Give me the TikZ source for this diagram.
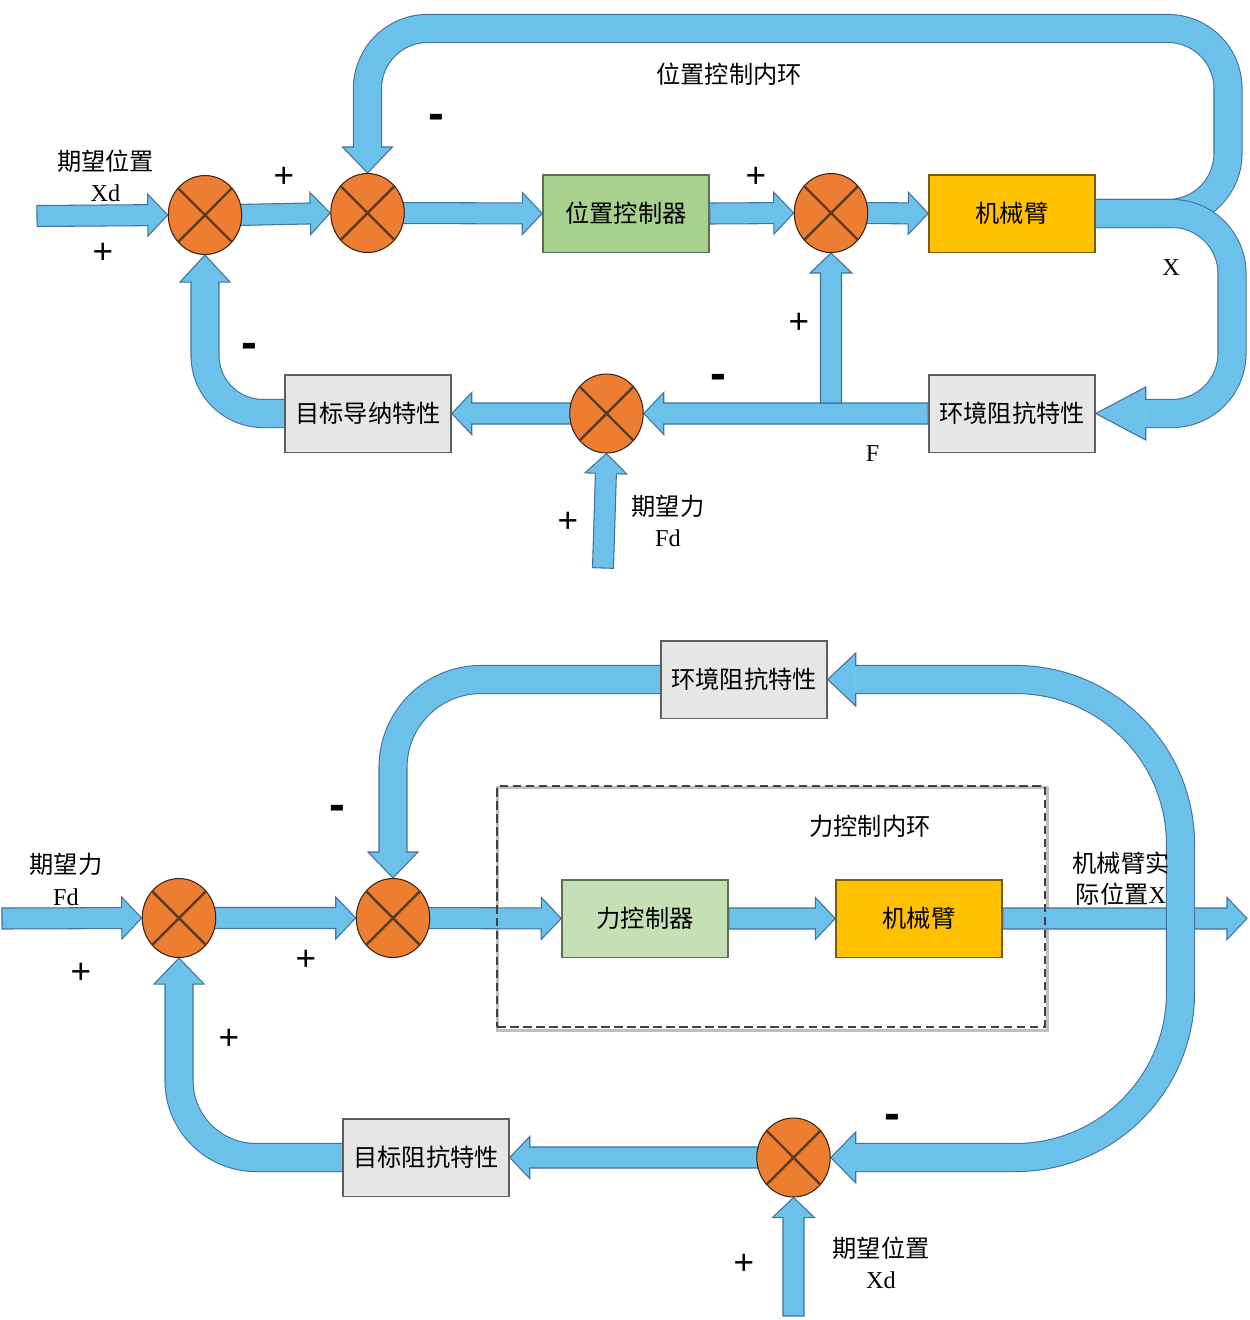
\documentclass[tikz,border=0pt]{standalone}
\usepackage{fontspec}
\setmainfont{Liberation Serif}
\newfontfamily\cjk{Noto Sans CJK SC}
\newfontfamily\sgn{Liberation Sans}
\usetikzlibrary{calc,shapes.geometric}
\pgfdeclarelayer{bg}
\pgfsetlayers{bg,main}
\definecolor{bandfill}{HTML}{6CC1EA}
\definecolor{bandedge}{HTML}{41719C}
\definecolor{sumfill}{HTML}{ED7D31}
\definecolor{sumedge}{HTML}{3B2313}
\definecolor{xcol}{HTML}{5A3A20}
\definecolor{boxgray}{HTML}{E7E6E6}
\definecolor{grayedge}{HTML}{5E5E5E}
\definecolor{greenA}{HTML}{A9D18E}
\definecolor{greenB}{HTML}{C5E0B4}
\definecolor{greenedge}{HTML}{5E6E52}
\definecolor{armfill}{HTML}{FFC000}
\definecolor{armedge}{HTML}{7A5C10}
\definecolor{dashcol}{HTML}{404040}
\tikzset{
 blk/.style={rectangle, draw=grayedge, line width=0.85pt, minimum width=33.2mm, minimum height=15.5mm, inner sep=0pt, font=\cjk\fontsize{13.8}{16}\selectfont},
 graybox/.style={blk, fill=boxgray},
 greenbox/.style={blk, fill=#1, draw=greenedge},
 armbox/.style={blk, fill=armfill, draw=armedge},
 summer/.style={ellipse, draw=sumedge, fill=sumfill, line width=0.6pt, minimum width=14.7mm, minimum height=15.8mm, inner sep=0pt},
 xline/.style={draw=xcol, line width=1.4pt},
 fatpoly/.style={fill=bandfill, draw=bandedge, line width=0.6pt, line join=miter},
 fatband/.style={draw=bandfill, line width=5.4mm, preaction={draw=bandedge, line width=5.82mm}},
 headedge/.style={draw=bandedge, line width=0.6pt},
 cjklab/.style={font=\cjk\fontsize{13.8}{16}\selectfont, inner sep=0pt},
 twoline/.style={align=center, inner sep=0pt, font=\fontsize{13.8}{17.8}\selectfont},
 latlab/.style={font=\fontsize{13.8}{16}\selectfont, inner sep=0pt},
 sgnplus/.style={anchor=base, inner sep=0pt, font=\sgn\fontsize{20}{20}\selectfont},
 sgnminus/.style={anchor=base, inner sep=0pt, font=\sgn\bfseries\fontsize{27}{27}\selectfont},
}
\newcommand\fathead[4]{%
 \fill[bandfill] ($(#1)!#3!90:(#2)$) -- ($(#1)!#4!90:(#2)$) -- (#2) -- ($(#1)!#4!-90:(#2)$) -- ($(#1)!#3!-90:(#2)$) -- cycle;
 \draw[headedge] ($(#1)!#3!90:(#2)$) -- ($(#1)!#4!90:(#2)$) -- (#2) -- ($(#1)!#4!-90:(#2)$) -- ($(#1)!#3!-90:(#2)$);}
\newcommand\fatarrow[5]{%
 \path (#1) coordinate (faA) (#2) coordinate (faT);
 \path ($(faT)!#4!(faA)$) coordinate (faB);
 \filldraw[fatpoly] ($(faA)!#3!90:(faT)$) -- ($(faB)!#3!90:(faT)$) -- ($(faB)!#5!90:(faT)$) -- (faT) -- ($(faB)!#5!-90:(faT)$) -- ($(faB)!#3!-90:(faT)$) -- ($(faA)!#3!-90:(faT)$) -- cycle;}
\newcommand\thinarrow[2]{\fatarrow{#1}{#2}{2.1mm}{4mm}{4.2mm}}
\begin{document}
\begin{tikzpicture}[x=0.02cm, y=-0.02cm]
\useasboundingbox (0,0) rectangle (1249,1320);
\begin{pgfonlayer}{bg}
\fill[white] (0,0) rectangle (1249,1320);
\end{pgfonlayer}
% ---------- top diagram nodes
\node[summer] (s1) at (205,215) {};
\node[summer] (s2) at (367.5,213) {};
\node[greenbox=greenA] (pc) at (626,213.5) {位置控制器};
\node[summer] (s3) at (831,213) {};
\node[armbox] (arm1) at (1012,213.5) {机械臂};
\node[graybox] (adm1) at (368,413.5) {目标导纳特性};
\node[summer] (s4) at (606.5,413.5) {};
\node[graybox] (env1) at (1012,413.5) {环境阻抗特性};
% ---------- bottom diagram nodes
\node[draw=dashcol, line width=0.9pt, dash pattern=on 1.7mm off 0.9mm, minimum width=109.6mm, minimum height=48.2mm, inner sep=0pt] (fbox) at (771,906.5) {};
\node[summer] (s5) at (179,918) {};
\node[summer] (s6) at (393,918) {};
\node[greenbox=greenB] (fc) at (645,918.5) {力控制器};
\node[armbox] (arm2) at (919,918.5) {机械臂};
\node[graybox] (env2) at (744,679.5) {环境阻抗特性};
\node[graybox] (imp2) at (426,1157.5) {目标阻抗特性};
\node[summer] (s7) at (793.5,1157.5) {};
\foreach \s in {s1,s2,s3,s4,s5,s6,s7}
  \draw[xline] (\s.45) -- (\s.225) (\s.135) -- (\s.-45);
% ---------- coordinates
\coordinate (in1) at (37,216);
\coordinate (j1) at (831,403);
\coordinate (fd1) at (603,568);
\coordinate (cA) at (1228,28.5);
\coordinate (hA) at ($(s2.north)+(0,-26)$);
\coordinate (cB) at (1232,413.5);
\coordinate (hB) at ($(env1.east)+(50,0)$);
\coordinate (hC) at ($(s1.south)+(0,27)$);
\coordinate (in2) at (2,918.5);
\coordinate (out2) at (1247,918.5);
\coordinate (xd2) at (793.5,1316);
\coordinate (hD) at ($(s6.north)+(0,-26)$);
\coordinate (hE1) at ($(env2.east)+(28,0)$);
\coordinate (hE2) at ($(s7.east)+(25,0)$);
\coordinate (cE) at (1180.5,1157.5);
\coordinate (hF) at ($(s5.south)+(0,26)$);
% ---------- connectors
\begin{pgfonlayer}{bg}
\draw[black!25, line width=0.6mm] ($(fbox.north west)+(1.5,2.5)$) rectangle ($(fbox.south east)+(1.5,2.5)$);
\thinarrow{in1}{s1.west}
\thinarrow{[xshift=-1mm]s1.east}{s2.west}
\thinarrow{[xshift=-1mm]s2.east}{pc.west}
\thinarrow{pc.east}{s3.west}
\thinarrow{[xshift=-1mm]s3.east}{arm1.west}
\draw[fatband, rounded corners=12mm] (arm1.east) -| (cA) -| (hA);
\fathead{hA}{s2.north}{2.7mm}{5mm}
\draw[fatband, rounded corners=12mm] (arm1.east) -| (cB) -- (hB);
\fathead{hB}{env1.east}{2.7mm}{5.3mm}
\thinarrow{env1.west}{s4.east}
\thinarrow{j1}{s3.south}
\thinarrow{[xshift=1mm]s4.west}{adm1.east}
\thinarrow{fd1}{s4.south}
\draw[fatband, rounded corners=11.6mm] (adm1.west) -| (hC);
\fathead{hC}{s1.south}{2.7mm}{5mm}
\thinarrow{in2}{s5.west}
\thinarrow{[xshift=-1mm]s5.east}{s6.west}
\thinarrow{[xshift=-1mm]s6.east}{fc.west}
\thinarrow{fc.east}{arm2.west}
\thinarrow{arm2.east}{out2}
\draw[fatband, rounded corners=17.6mm] (env2.west) -| (hD);
\fathead{hD}{s6.north}{2.7mm}{5mm}
\draw[fatband, rounded corners=33mm] (hE1) -| (cE) -- (hE2);
\fathead{hE1}{env2.east}{2.7mm}{5.3mm}
\fathead{hE2}{s7.east}{2.7mm}{5.1mm}
\thinarrow{[xshift=1mm]s7.west}{imp2.east}
\thinarrow{xd2}{s7.south}
\draw[fatband, rounded corners=15.4mm] (imp2.west) -| (hF);
\fathead{hF}{s5.south}{2.7mm}{5mm}
\end{pgfonlayer}
% ---------- labels top
\node[cjklab] (t1) at (729,74) {位置控制内环};
\node[twoline] (t2) at (105.5,175.5) {{\cjk 期望位置}\\Xd};
\node[latlab] (t3) at (1171,268) {X};
\node[latlab] (t4) at (872.5,454) {F};
\node[twoline] (t5) at (668,521) {{\cjk 期望力}\\Fd};
\node[sgnplus] (p1) at (284,187.4) {+};
\node[sgnplus] (p2) at (103,263.4) {+};
\node[sgnplus] (p3) at (756,187.4) {+};
\node[sgnplus] (p4) at (799,333.4) {+};
\node[sgnplus] (p5) at (568,532.4) {+};
\node[sgnminus] (m1) at (436,129.4) {-};
\node[sgnminus] (m2) at (249,358.4) {-};
\node[sgnminus] (m3) at (718,389.4) {-};
% ---------- labels bottom
\node[twoline] (t6) at (66,879.5) {{\cjk 期望力}\\Fd};
\node[cjklab] (t7) at (870,826) {力控制内环};
\node[twoline] (t8) at (1121,879) {{\cjk 机械臂实}\\{\cjk 际位置}X};
\node[twoline] (t9) at (881,1262.5) {{\cjk 期望位置}\\Xd};
\node[sgnplus] (p6) at (81,983.4) {+};
\node[sgnplus] (p7) at (306,970.4) {+};
\node[sgnplus] (p8) at (229,1049.4) {+};
\node[sgnplus] (p9) at (744,1274.4) {+};
\node[sgnminus] (m4) at (337,820.4) {-};
\node[sgnminus] (m5) at (892.5,1129.4) {-};
\end{tikzpicture}
\end{document}
